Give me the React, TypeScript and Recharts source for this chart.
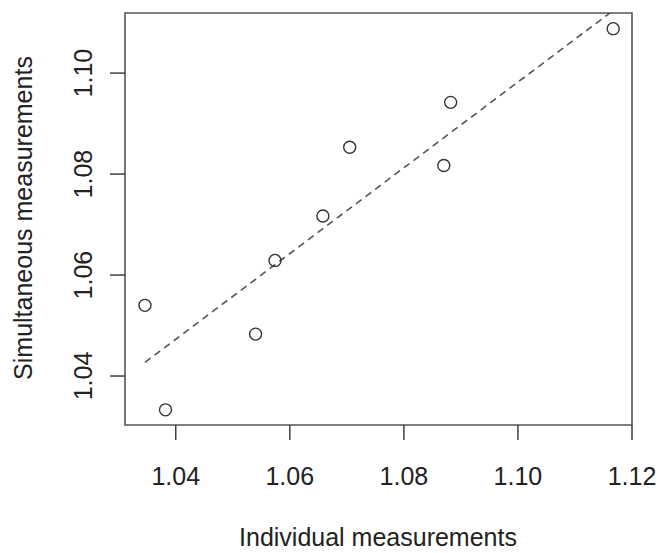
import { ScatterChart, Scatter, XAxis, YAxis, ReferenceArea, Label } from 'recharts';

// individual (x) vs simultaneous (y) measurements
const individual = [1.0346, 1.0382, 1.054, 1.0574, 1.0658, 1.0705, 1.087, 1.0882, 1.1167];
const simultaneous = [1.054, 1.0333, 1.0483, 1.0629, 1.0717, 1.0853, 1.0817, 1.0942, 1.1088];

// dashed fitted line, from min x to max x
const trendX = [1.0346, 1.1167];
const trendY = [1.0427, 1.1124];

const xTicks = [1.04, 1.06, 1.08, 1.1, 1.12];
const yTicks = [1.04, 1.06, 1.08, 1.1];

const xDomain = [1.0311, 1.12];
const yDomain = [1.0303, 1.1119];

const points = individual.map((x, i) => ({ x, y: simultaneous[i] }));
const trend = trendX.map((x, i) => ({ x, y: trendY[i] }));

const FONT = '"Liberation Sans", Arial, Helvetica, sans-serif';
const INK = '#222';

const XTick = (props: any) => {
  const { x, y, payload } = props;
  return (
    <text x={x} y={y + 43} textAnchor="middle" fontSize={25} fontFamily={FONT} fill={INK}>
      {payload.value.toFixed(2)}
    </text>
  );
};

const YTick = (props: any) => {
  const { y, payload } = props;
  const bx = 92;
  return (
    <text
      x={bx}
      y={y}
      transform={`rotate(-90, ${bx}, ${y})`}
      textAnchor="middle"
      fontSize={25}
      fontFamily={FONT}
      fill={INK}
    >
      {payload.value.toFixed(2)}
    </text>
  );
};

const Ring = (props: any) => (
  <circle cx={props.cx} cy={props.cy} r={6} fill="none" stroke="#333" strokeWidth={1.4} />
);

const NoDot = () => <g />;

export default function App() {
  return (
    <div style={{ position: 'absolute', left: 0, top: 0, background: '#fff' }}>
      <ScatterChart width={659} height={553} margin={{ top: 13, right: 27, bottom: 0, left: 0 }}>
        <XAxis
          type="number"
          dataKey="x"
          domain={xDomain}
          ticks={xTicks}
          allowDataOverflow
          height={128}
          tickSize={15}
          axisLine={false}
          tickLine={{ stroke: '#333', strokeWidth: 1.4 }}
          tick={<XTick />}
        >
          <Label
            content={() => (
              <text x={378} y={546} textAnchor="middle" fontSize={25} fontFamily={FONT} fill={INK}>
                Individual measurements
              </text>
            )}
          />
        </XAxis>
        <YAxis
          type="number"
          dataKey="y"
          domain={yDomain}
          ticks={yTicks}
          allowDataOverflow
          width={125}
          tickSize={15}
          axisLine={false}
          tickLine={{ stroke: '#333', strokeWidth: 1.4 }}
          tick={<YTick />}
        >
          <Label
            content={() => (
              <text
                x={32}
                y={218}
                transform="rotate(-90, 32, 218)"
                textAnchor="middle"
                fontSize={25}
                fontFamily={FONT}
                fill={INK}
              >
                Simultaneous measurements
              </text>
            )}
          />
        </YAxis>
        <ReferenceArea
          x1={xDomain[0]}
          x2={xDomain[1]}
          y1={yDomain[0]}
          y2={yDomain[1]}
          fill="none"
          fillOpacity={0}
          stroke="#555"
          strokeWidth={1.6}
          ifOverflow="visible"
        />
        <Scatter
          data={trend}
          line={{ stroke: '#555', strokeWidth: 1.6, strokeDasharray: '7 5' }}
          shape={<NoDot />}
          isAnimationActive={false}
        />
        <Scatter data={points} shape={<Ring />} isAnimationActive={false} />
      </ScatterChart>
    </div>
  );
}
